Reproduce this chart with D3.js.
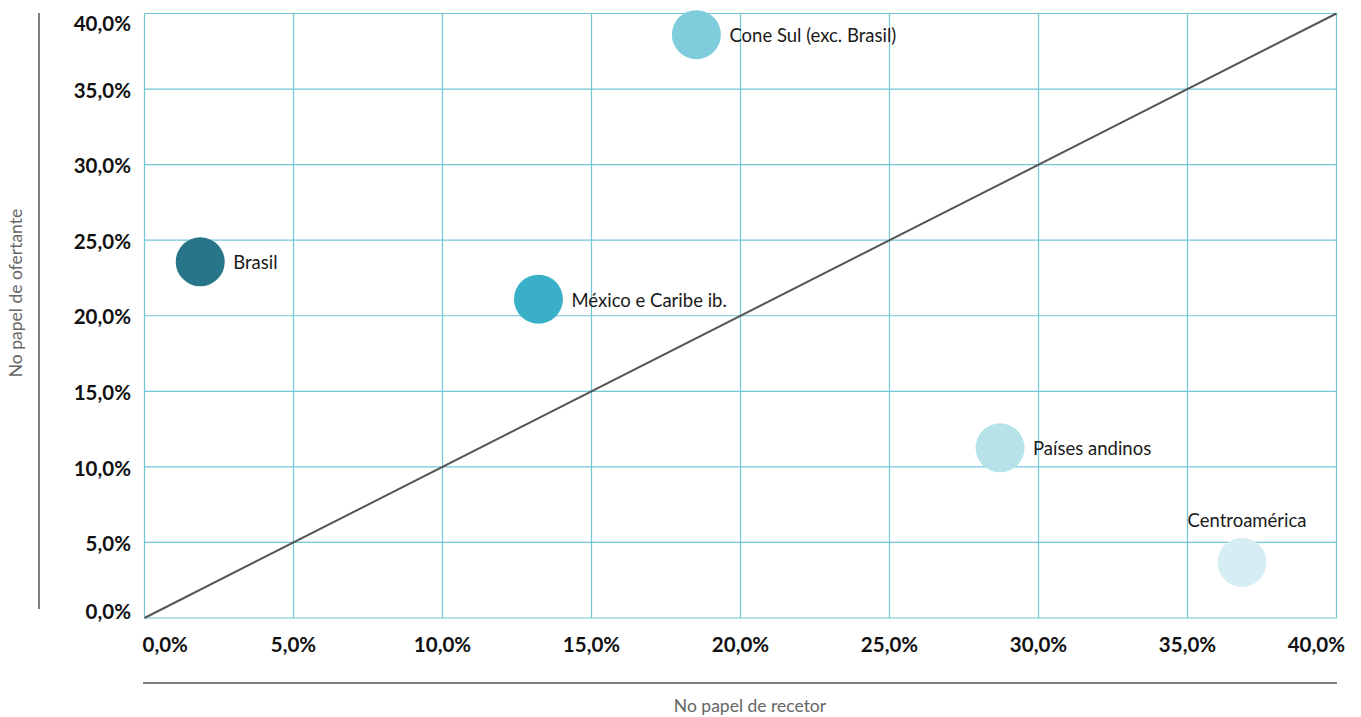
<!DOCTYPE html>
<html><head><meta charset="utf-8">
<script src="https://cdn.jsdelivr.net/npm/d3@7"></script>
<style>body{margin:0;background:#fff;} text{font-family:Lato,"Open Sans",sans-serif;}</style>
</head><body><svg id="c" width="1361" height="717"></svg>
<script>
const regions = ["Brasil","México e Caribe ib.","Cone Sul (exc. Brasil)","Países andinos","Centroamérica"];
const receptor = [1.87,13.22,18.52,28.71,36.83];
const ofertante = [23.57,21.1,38.6,11.26,3.68];
const colors = ["#277589","#3AB0C8","#7FCCDC","#B8E2EA","#D6EEF3"];
const ticks = [0,5,10,15,20,25,30,35,40];
const tickLabels = ["0,0%","5,0%","10,0%","15,0%","20,0%","25,0%","30,0%","35,0%","40,0%"];

const svg = d3.select("#c");
const x = d3.scaleLinear().domain([0,40]).range([144.5,1336.5]);
const y = d3.scaleLinear().domain([0,40]).range([618,13.5]);
const grid = "#72C8D8";

svg.append("g").selectAll("line.v").data(ticks).join("line")
  .attr("x1",d=>x(d)).attr("x2",d=>x(d)).attr("y1",y(0)).attr("y2",y(40))
  .attr("stroke",grid).attr("stroke-width",1.2);
svg.append("g").selectAll("line.h").data(ticks).join("line")
  .attr("y1",d=>y(d)).attr("y2",d=>y(d)).attr("x1",x(0)).attr("x2",x(40))
  .attr("stroke",grid).attr("stroke-width",1.2);

// y tick labels (first/last clamped inside the chart area)
svg.append("g").selectAll("text").data(ticks).join("text")
  .attr("x",131).attr("y",d=>Math.min(Math.max(y(d)+1.5,24),612)).attr("dy","0.35em").attr("text-anchor","end")
  .attr("font-size",20.5).attr("font-weight","bold").attr("fill","#111")
  .text((d,i)=>tickLabels[i]);
// x tick labels (first/last clamped)
svg.append("g").selectAll("text").data(ticks).join("text")
  .attr("x",(d,i)=> i===0 ? x(d)-2 : i===ticks.length-1 ? 1345 : x(d))
  .attr("y",652)
  .attr("text-anchor",(d,i)=> i===0 ? "start" : i===ticks.length-1 ? "end" : "middle")
  .attr("font-size",20.5).attr("font-weight","bold").attr("fill","#111")
  .text((d,i)=>tickLabels[i]);

svg.append("line").attr("x1",x(0)).attr("y1",y(0)).attr("x2",x(40)).attr("y2",y(40))
  .attr("stroke","#555").attr("stroke-width",2);

const data = regions.map((r,i)=>({r,x:receptor[i],y:ofertante[i],c:colors[i]}));
svg.append("g").selectAll("circle").data(data).join("circle")
  .attr("cx",d=>x(d.x)).attr("cy",d=>y(d.y)).attr("r",24.5).attr("fill",d=>d.c);
svg.append("g").selectAll("text").data(data).join("text")
  .attr("x",d=> d.r==="Centroamérica" ? x(d.x)+5 : x(d.x)+33)
  .attr("y",d=> d.r==="Centroamérica" ? y(d.y)-35 : y(d.y)+1)
  .attr("dy",d=> d.r==="Centroamérica" ? 0 : "0.35em")
  .attr("text-anchor",d=> d.r==="Centroamérica" ? "middle" : "start")
  .attr("font-size",18.5).attr("fill","#1a1a1a").text(d=>d.r);

svg.append("line").attr("x1",143).attr("x2",1337).attr("y1",683).attr("y2",683).attr("stroke","#555").attr("stroke-width",1.5);
svg.append("text").attr("x",750).attr("y",712).attr("text-anchor","middle").attr("font-size",17.5).attr("fill","#666").text("No papel de recetor");
svg.append("line").attr("x1",39).attr("x2",39).attr("y1",13).attr("y2",609).attr("stroke","#555").attr("stroke-width",1.5);
svg.append("text").attr("transform","translate(22,293) rotate(-90)").attr("text-anchor","middle").attr("font-size",17.5).attr("fill","#666").text("No papel de ofertante");
</script></body></html>
